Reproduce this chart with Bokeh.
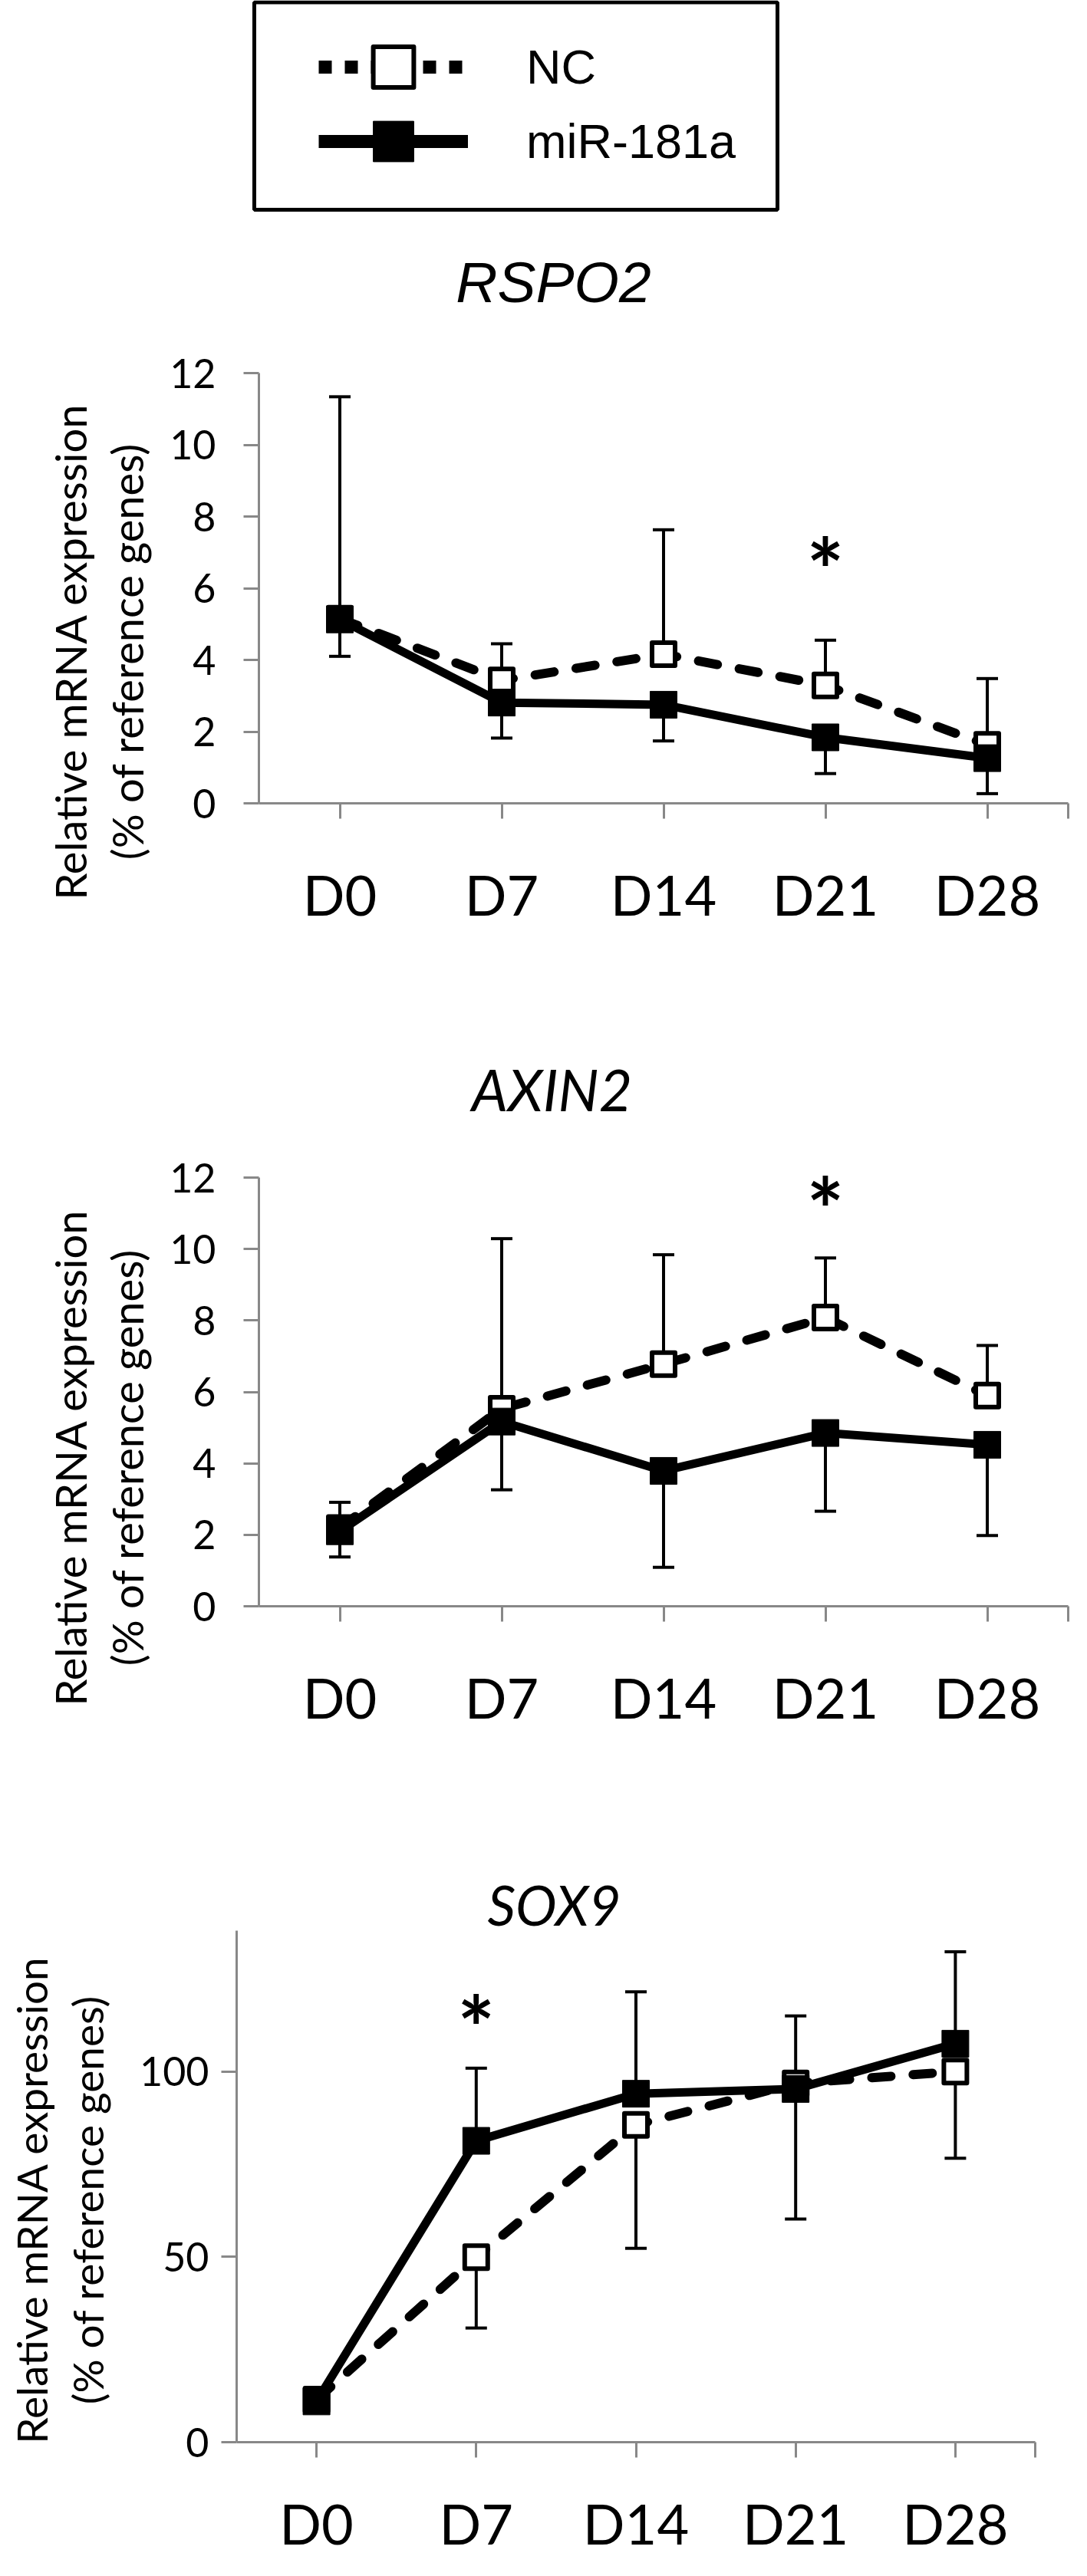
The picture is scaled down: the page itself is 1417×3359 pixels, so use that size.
import math
from bokeh.plotting import figure
from bokeh.models import (Range1d, Label, Legend, LegendItem, BoxAnnotation, FixedTicker)
from bokeh.layouts import column
from bokeh.embed import file_html
from bokeh.resources import INLINE

# ---------------- data ----------------
days = ["D0", "D7", "D14", "D21", "D28"]
series_names = ["NC", "miR-181a"]

rspo2_nc = [5.15, 3.43, 4.16, 3.29, 1.63]
rspo2_mir = [5.13, 2.81, 2.75, 1.84, 1.26]
rspo2_nc_err_top = [11.34, 4.45, 7.63, 4.55, 3.48]
rspo2_mir_err_bottom = [4.10, 1.82, 1.74, 0.83, 0.27]
rspo2_star = ("D21", 7.25)

axin2_nc = [2.19, 5.53, 6.78, 8.08, 5.90]
axin2_mir = [2.10, 5.17, 3.79, 4.85, 4.52]
axin2_nc_err_top = [2.91, 10.29, 9.84, 9.75, 7.30]
axin2_mir_err_bottom = [1.38, 3.26, 1.09, 2.66, 1.98]
axin2_star = ("D21", 11.83)

sox9_nc = [11.5, 49.9, 85.6, 96.8, 100.0]
sox9_mir = [11.0, 81.3, 94.0, 95.3, 107.5]
sox9_mir_err_top = [13.0, 100.9, 121.5, 115.0, 132.3]
sox9_nc_err_bottom = [9.5, 30.8, 52.3, 60.2, 76.6]
sox9_star = ("D7", 118.8)

ytick_small = [0, 2, 4, 6, 8, 10, 12]
ytick_sox9 = [0, 50, 100]
ymax_small = 12
ymax_sox9 = 138

y_title_1 = "Relative mRNA expression"
y_title_2 = "(% of reference genes)"

# ---------------- styling / layout constants ----------------
PAGE_W = 1401
MARGIN = 8
AXIS_GRAY = "#888888"
TICK_FONT = "Lato"
BASELINE_FIX = 21      # renderer draws 'alphabetic' text lower than asked; compensate

# category positions on the numeric x scale (band centres)
xpos = [i + 0.5 for i in range(len(days))]
n_cat = len(days)


def make_panel(top, h, fl, fr, ft, fb, ymax, yticks, y_standoff, x_standoff,
               nc, mir, up_base, up_end, lo_base, lo_end, star,
               title, title_font, title_size, title_xy, title_fix,
               ytitle_pos, ytitle_size):
    # The frame is the whole canvas; axes sit at fixed data locations inside it.
    # data x 0..n_cat -> page x fl..fr ; data y 0..ymax -> page y fb..ft
    sx = (fr - fl) / n_cat
    sy = (fb - ft) / ymax
    x_start = -(fl - MARGIN) / sx
    x_end = n_cat + (MARGIN + PAGE_W - fr) / sx
    y_start = -(top + h - fb) / sy
    y_end = (fb - top) / sy

    def dx(px):
        return (px - fl) / sx

    def dy(py):
        return (fb - py) / sy

    p = figure(width=PAGE_W, height=h,
               x_range=Range1d(x_start, x_end), y_range=Range1d(y_start, y_end),
               output_backend="svg", toolbar_location=None, frame_align=False,
               min_border=0)
    p.outline_line_color = None
    p.grid.visible = False
    p.background_fill_color = "white"
    p.border_fill_color = "white"

    # axes
    p.yaxis.fixed_location = 0
    p.yaxis.bounds = (0, ymax)
    p.yaxis.ticker = FixedTicker(ticks=yticks)
    p.xaxis.fixed_location = 0
    p.xaxis.bounds = (0, n_cat)
    p.xaxis.ticker = FixedTicker(ticks=xpos + [n_cat])
    overrides = {x: d for x, d in zip(xpos, days)}
    overrides[n_cat] = ""
    p.xaxis.major_label_overrides = overrides
    for ax in (p.xaxis[0], p.yaxis[0]):
        ax.axis_line_color = AXIS_GRAY
        ax.axis_line_width = 3
        ax.major_tick_line_color = AXIS_GRAY
        ax.major_tick_line_width = 3
        ax.major_tick_in = 0
        ax.major_tick_out = 20
        ax.minor_tick_line_color = None
        ax.major_label_text_font = TICK_FONT
        ax.major_label_text_color = "black"
    p.yaxis.major_label_text_font_size = "52px"
    p.yaxis.major_label_standoff = y_standoff
    p.xaxis.major_label_text_font_size = "72px"
    p.xaxis.major_label_standoff = x_standoff

    # error bars (drawn below everything)
    p.segment(x0=xpos, y0=up_base, x1=xpos, y1=up_end, line_color="black", line_width=4)
    p.scatter(x=xpos, y=up_end, marker="dash", size=28, line_color="black", line_width=4)
    p.segment(x0=xpos, y0=lo_base, x1=xpos, y1=lo_end, line_color="black", line_width=4)
    p.scatter(x=xpos, y=lo_end, marker="dash", size=28, line_color="black", line_width=4)

    # NC series
    p.line(x=xpos, y=nc, line_color="black", line_width=12, line_dash="25 29",
           line_cap="round", line_join="round")
    p.scatter(x=xpos, y=nc, marker="square", size=30, fill_color="white",
              line_color="black", line_width=6, line_join="round")
    # miR-181a series
    p.line(x=xpos, y=mir, line_color="black", line_width=11, line_join="round")
    p.scatter(x=xpos, y=mir, marker="square", size=35, fill_color="black",
              line_color="black", line_width=1)

    # significance star
    sday, sval = star
    p.add_layout(Label(x=xpos[days.index(sday)], y=sval, text="*", text_font="Lato",
                       text_font_style="bold", text_font_size="115px", text_color="black",
                       text_align="center", text_baseline="middle", y_offset=-32))

    # panel title
    tx, ty = title_xy
    p.add_layout(Label(x=dx(tx), y=dy(ty - title_fix), text=title, text_font=title_font,
                       text_font_style="italic", text_font_size=title_size,
                       text_color="black", text_align="center", text_baseline="alphabetic"))

    # y-axis title, two rotated lines
    x1, x2, yc = ytitle_pos
    for xx, txt in ((x1, y_title_1), (x2, y_title_2)):
        p.add_layout(Label(x=dx(xx - 14), y=dy(yc + 12), text=txt,
                           text_font=TICK_FONT, text_font_size=ytitle_size,
                           text_color="black", angle=math.pi / 2, text_align="center",
                           text_baseline="alphabetic"))
    return p


# ---------------- top strip: legend ----------------
A_TOP, A_H = 8, 292
sA = figure(width=PAGE_W, height=A_H, x_range=Range1d(0, PAGE_W), y_range=Range1d(0, A_H),
            x_axis_type=None, y_axis_type=None, output_backend="svg",
            toolbar_location=None, min_border=0, frame_align=False)
sA.grid.visible = False
sA.outline_line_color = None

far = [-5000, -4999]
r_nc_line = sA.line(far, far, line_color="black", line_width=17, line_dash="17 17")
r_nc_mark = sA.scatter(far, far, marker="square", fill_color="white",
                       line_color="black", line_width=6, line_join="round")
r_mir_line = sA.line(far, far, line_color="black", line_width=17)
r_mir_mark = sA.scatter(far, far, marker="square", fill_color="black",
                        line_color="black", line_width=1)

leg_common = dict(glyph_width=195, glyph_height=132, spacing=0, padding=0, margin=0,
                  label_standoff=76, label_text_font="Liberation Sans",
                  label_text_font_size="63px", label_text_color="black",
                  border_line_color=None, background_fill_alpha=0)
for name, rends, row_center in ((series_names[0], [r_nc_line, r_nc_mark], 95),
                                (series_names[1], [r_mir_line, r_mir_mark], 192)):
    lg = Legend(items=[LegendItem(label=name, renderers=rends)],
                location=(423 - MARGIN, A_TOP + A_H - (row_center + 66)), **leg_common)
    sA.add_layout(lg)

sA.add_layout(BoxAnnotation(left=339 - MARGIN, right=1021 - MARGIN,
                            top=A_TOP + A_H - 10.5, bottom=A_TOP + A_H - 281,
                            fill_alpha=0, line_color="black", line_alpha=1.0, line_width=5))

# ---------------- panels ----------------
p1 = make_panel(300, 1020, 345, 1400, 494, 1055, ymax_small, ytick_small, 36, 55,
                rspo2_nc, rspo2_mir, rspo2_nc, rspo2_nc_err_top, rspo2_mir, rspo2_mir_err_bottom,
                rspo2_star, "RSPO2", "Liberation Sans", "75px", (729, 402), 27,
                (113, 187, 845), "56px")
p2 = make_panel(1320, 1074, 345, 1400, 1543, 2102, ymax_small, ytick_small, 36, 55,
                axin2_nc, axin2_mir, axin2_nc, axin2_nc_err_top, axin2_mir, axin2_mir_err_bottom,
                axin2_star, "AXIN2", "Lato", "75px", (727, 1448), BASELINE_FIX,
                (113, 187, 1896), "56px")
p3 = make_panel(2394, 957, 316, 1357, 2525, 3192, ymax_sox9, ytick_sox9, 16, 42,
                sox9_nc, sox9_mir, sox9_mir, sox9_mir_err_top, sox9_nc, sox9_nc_err_bottom,
                sox9_star, "SOX9", "Lato", "72px", (730, 2511), BASELINE_FIX,
                (62, 135, 2864), "55px")

layout = column(sA, p1, p2, p3, spacing=0)
open("out.html", "w").write(file_html(layout, INLINE, "chart"))
